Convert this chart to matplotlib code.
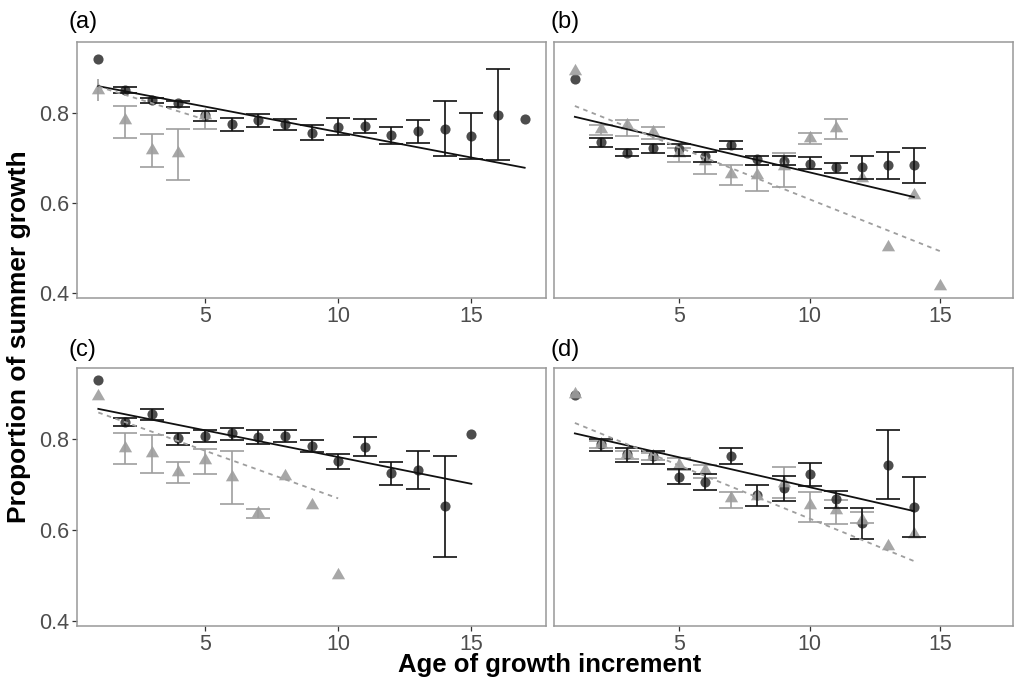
import numpy as np
import matplotlib
matplotlib.use('Agg')
import matplotlib.pyplot as plt

plt.rcParams['font.family'] = ['Liberation Sans', 'DejaVu Sans']

nan = np.nan

# panel (a)
a_x_dark = np.arange(1, 18)
a_y_dark = [0.920, 0.850, 0.828, 0.821, 0.794, 0.774, 0.783, 0.774, 0.756, 0.769, 0.770, 0.750, 0.759, 0.764, 0.748, 0.796, 0.787]
a_lo_dark = [nan, 0.843, 0.821, 0.813, 0.781, 0.759, 0.768, 0.761, 0.739, 0.750, 0.756, 0.730, 0.733, 0.704, 0.698, 0.696, nan]
a_hi_dark = [nan, 0.858, 0.833, 0.827, 0.805, 0.788, 0.797, 0.787, 0.773, 0.789, 0.787, 0.769, 0.785, 0.826, 0.800, 0.896, nan]
a_x_light = np.arange(1, 6)
a_y_light = [0.850, 0.784, 0.718, 0.711, 0.794]
a_lo_light = [0.826, 0.743, 0.680, 0.650, 0.765]
a_hi_light = [0.874, 0.816, 0.752, 0.764, 0.805]
a_fit_dark = ([1, 17], [0.859, 0.678])
a_fit_light = ([1, 5], [0.858, 0.785])

# panel (b)
b_x_dark = np.arange(1, 15)
b_y_dark = [0.874, 0.735, 0.711, 0.721, 0.720, 0.704, 0.728, 0.698, 0.694, 0.687, 0.679, 0.680, 0.685, 0.684]
b_lo_dark = [nan, 0.724, 0.704, 0.710, 0.705, 0.691, 0.719, 0.683, 0.683, 0.676, 0.667, 0.652, 0.654, 0.644]
b_hi_dark = [nan, 0.744, 0.719, 0.730, 0.730, 0.713, 0.737, 0.705, 0.704, 0.701, 0.689, 0.705, 0.713, 0.722]
b_x_light = np.arange(1, 16)
b_y_light = [0.893, 0.763, 0.772, 0.757, 0.711, 0.694, 0.664, 0.663, 0.681, 0.744, 0.767, 0.655, 0.502, 0.618, 0.415]
b_lo_light = [nan, 0.750, 0.748, 0.741, 0.690, 0.665, 0.639, 0.626, 0.636, 0.730, 0.741, nan, nan, nan, nan]
b_hi_light = [nan, 0.773, 0.785, 0.769, 0.722, 0.713, 0.683, 0.685, 0.711, 0.756, 0.787, nan, nan, nan, nan]
b_fit_dark = ([1, 14], [0.791, 0.613])
b_fit_light = ([1, 15], [0.815, 0.493])

# panel (c)
c_x_dark = np.arange(1, 16)
c_y_dark = [0.931, 0.839, 0.856, 0.802, 0.807, 0.813, 0.805, 0.807, 0.785, 0.752, 0.783, 0.726, 0.733, 0.653, 0.811]
c_lo_dark = [nan, 0.830, 0.843, 0.787, 0.793, 0.799, 0.789, 0.793, 0.772, 0.735, 0.763, 0.700, 0.690, 0.541, nan]
c_hi_dark = [nan, 0.846, 0.867, 0.815, 0.821, 0.826, 0.820, 0.820, 0.798, 0.767, 0.804, 0.750, 0.774, 0.764, nan]
c_x_light = np.arange(1, 11)
c_y_light = [0.895, 0.781, 0.770, 0.729, 0.755, 0.718, 0.638, 0.720, 0.655, 0.501]
c_lo_light = [nan, 0.746, 0.726, 0.703, 0.724, 0.657, 0.627, nan, nan, nan]
c_hi_light = [nan, 0.813, 0.809, 0.750, 0.778, 0.775, 0.646, nan, nan, nan]
c_fit_dark = ([1, 15], [0.867, 0.702])
c_fit_light = ([1, 10], [0.859, 0.670])

# panel (d)
d_x_dark = np.arange(1, 15)
d_y_dark = [0.897, 0.789, 0.767, 0.763, 0.718, 0.706, 0.763, 0.677, 0.692, 0.724, 0.668, 0.616, 0.744, 0.651]
d_lo_dark = [nan, 0.774, 0.749, 0.746, 0.702, 0.688, 0.746, 0.654, 0.664, 0.697, 0.648, 0.581, 0.668, 0.584]
d_hi_dark = [nan, 0.801, 0.781, 0.774, 0.735, 0.724, 0.781, 0.700, 0.720, 0.748, 0.687, 0.649, 0.820, 0.718]
d_x_light = np.arange(1, 15)
d_y_light = [0.900, 0.789, 0.767, 0.763, 0.744, 0.733, 0.670, 0.675, 0.703, 0.655, 0.644, 0.623, 0.566, 0.592]
d_lo_light = [nan, 0.780, 0.757, 0.755, 0.732, 0.714, 0.648, nan, 0.670, 0.619, 0.613, 0.616, nan, nan]
d_hi_light = [nan, 0.796, 0.774, 0.770, 0.759, 0.744, 0.685, nan, 0.738, 0.685, 0.666, 0.640, nan, nan]
d_fit_dark = ([1, 14], [0.813, 0.642])
d_fit_light = ([1, 14], [0.836, 0.532])

panel_labels = ['(a)', '(b)', '(c)', '(d)']
x_ticks = [5, 10, 15]
y_ticks = [0.4, 0.6, 0.8]

panels = [
    (a_x_dark, a_y_dark, a_lo_dark, a_hi_dark, a_x_light, a_y_light, a_lo_light, a_hi_light, a_fit_dark, a_fit_light),
    (b_x_dark, b_y_dark, b_lo_dark, b_hi_dark, b_x_light, b_y_light, b_lo_light, b_hi_light, b_fit_dark, b_fit_light),
    (c_x_dark, c_y_dark, c_lo_dark, c_hi_dark, c_x_light, c_y_light, c_lo_light, c_hi_light, c_fit_dark, c_fit_light),
    (d_x_dark, d_y_dark, d_lo_dark, d_hi_dark, d_x_light, d_y_light, d_lo_light, d_hi_light, d_fit_dark, d_fit_light),
]

W, H = 1014, 682
fig = plt.figure(figsize=(W / 100, H / 100), dpi=100)

# axes boxes in pixels: left, top, right, bottom
boxes = [(77, 42, 546, 298), (554, 42, 1013, 298),
         (77, 368, 546, 626), (554, 368, 1013, 626)]
label_pos = [(69, 22), (551, 22), (69, 350), (551, 350)]

DARK = '#3a3a3a'
LIGHT = '#9e9e9e'
tri = [(-1, -0.577), (1, -0.577), (0, 1.155)]


def errbars(ax, x, y, lo, hi, color, z):
    x = np.asarray(x, float)
    lo = np.asarray(lo, float)
    hi = np.asarray(hi, float)
    ok = ~np.isnan(lo)
    capped = ok & (x > 1)
    ax.errorbar(x[capped], np.asarray(y)[capped],
                yerr=[np.asarray(y)[capped] - lo[capped], hi[capped] - np.asarray(y)[capped]],
                fmt='none', ecolor=color, elinewidth=1.2, capsize=8.3, capthick=1.2, zorder=z)
    nocap = ok & (x <= 1)
    if nocap.any():
        ax.vlines(x[nocap], lo[nocap], hi[nocap], color=color, lw=1.2, zorder=z)


for i, (p, box) in enumerate(zip(panels, boxes)):
    xd, yd, lod, hid, xl, yl, lol, hil, fd, fl = p
    l, t, r, b = box
    ax = fig.add_axes([l / W, (H - b) / H, (r - l) / W, (b - t) / H])

    errbars(ax, xl, yl, lol, hil, LIGHT, 2)
    ax.plot(xd, yd, 'o', ms=7.3, color=DARK, alpha=0.9, mec='none', zorder=3)
    ax.plot(xl, yl, ls='none', marker=tri, ms=11, color=LIGHT, alpha=0.9, mec='none', zorder=4)
    errbars(ax, xd, yd, lod, hid, '#111111', 5)
    ax.plot(fd[0], fd[1], color='#111111', lw=1.3, zorder=6)
    ax.plot(fl[0], fl[1], color=LIGHT, lw=1.3, ls=(0, (2.5, 2.5)), zorder=6)

    ax.set_xlim(0.2, 17.8)
    ax.set_ylim(0.389, 0.957)
    ax.set_xticks(x_ticks)
    ax.set_yticks(y_ticks)
    ax.tick_params(direction='out', length=3.5, width=0.9, color='#333333',
                   labelsize=15.5, labelcolor='#4d4d4d', pad=2)
    if i % 2 == 1:
        ax.set_yticklabels([])
        ax.tick_params(axis='y', length=0)
    else:
        ax.set_yticklabels(['0.4', '0.6', '0.8'])
    for s in ax.spines.values():
        s.set_color('#999999')
        s.set_linewidth(1.1)

    lx, ly = label_pos[i]
    fig.text(lx / W, 1 - ly / H, panel_labels[i], fontsize=17, ha='left', va='center', color='black')

fig.text(550 / W, 1 - 665 / H, 'Age of growth increment', fontsize=18.5, fontweight='bold',
         ha='center', va='center')
fig.text(19 / W, 1 - 337 / H, 'Proportion of summer growth', fontsize=19, fontweight='bold',
         ha='center', va='center', rotation=90)

fig.savefig('out.png', dpi=100)
